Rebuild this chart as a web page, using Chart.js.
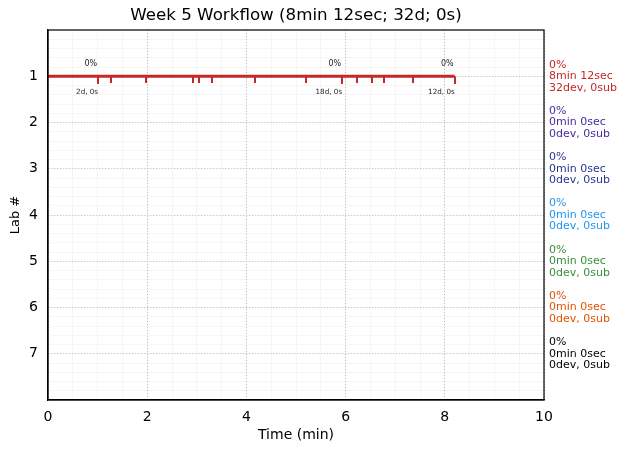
<!DOCTYPE html>
<html>
<head>
<meta charset="utf-8">
<script src="https://cdn.jsdelivr.net/npm/chart.js@4.4.1/dist/chart.umd.min.js"></script>
<style>
  html, body { margin: 0; padding: 0; background: #fff; }
  #wrap { width: 627px; height: 453px; }
</style>
</head>
<body>
<div id="wrap"><canvas id="chart"></canvas></div>
<script>
// lab rows and their right-hand summaries
const labs = [1, 2, 3, 4, 5, 6, 7];
const labColors = ["#c62828", "#4a2a9c", "#283593", "#2196f3", "#388e3c", "#e65100", "#000000"];
const labPercent = ["0%", "0%", "0%", "0%", "0%", "0%", "0%"];
const labTime = ["8min 12sec", "0min 0sec", "0min 0sec", "0min 0sec", "0min 0sec", "0min 0sec", "0min 0sec"];
const labCount = ["32dev, 0sub", "0dev, 0sub", "0dev, 0sub", "0dev, 0sub", "0dev, 0sub", "0dev, 0sub", "0dev, 0sub"];

// lab 1 timeline (minutes)
const lab1Span = [0, 8.2];
const lab1Events = [1.27, 1.98, 2.93, 3.05, 3.31, 4.17, 5.21, 6.23, 6.54, 6.78, 7.36];
const lab1Marks = [1.01, 5.93, 8.2];
const lab1MarkPct = ["0%", "0%", "0%"];
const lab1MarkText = ["2d, 0s", "18d, 0s", "12d, 0s"];

const xTicks = [0, 2, 4, 6, 8, 10];
const chartTitle = "Week 5 Workflow (8min 12sec; 32d; 0s)";

// small canvas used as point style: a tick hanging below the point
function tickImage(w, h, color) {
    const c = document.createElement("canvas");
    c.width = w;
    c.height = h * 2;
    const g = c.getContext("2d");
    g.fillStyle = color;
    g.fillRect(0, h, w, h);
    return c;
}
const smallTick = tickImage(2, 7, labColors[0]);
const bigTick = tickImage(2, 8, labColors[0]);

const frameAndText = {
    id: "frameAndText",
    afterDraw(chart) {
        const ctx = chart.ctx;
        const area = chart.chartArea;
        const xs = chart.scales.x;
        const ys = chart.scales.y;
        ctx.save();
        ctx.strokeStyle = "#000";
        ctx.lineWidth = 1.2;
        ctx.setLineDash([]);
        ctx.strokeRect(area.left, area.top, area.right - area.left, area.bottom - area.top);

        // title centred over the axes
        ctx.fillStyle = "#000";
        ctx.textAlign = "center";
        ctx.textBaseline = "middle";
        ctx.font = "16.7px 'DejaVu Sans'";
        ctx.fillText(chartTitle, (area.left + area.right) / 2, 16);

        // milestone labels on lab 1
        ctx.fillStyle = "#222";
        ctx.textAlign = "right";
        const yl = ys.getPixelForValue(labs[0]);
        lab1Marks.forEach((m, i) => {
            const px = xs.getPixelForValue(m);
            ctx.font = "8px 'DejaVu Sans'";
            ctx.fillText(lab1MarkPct[i], px - 1, yl - 12);
            ctx.font = "7.2px 'DejaVu Sans'";
            ctx.fillText(lab1MarkText[i], px, yl + 16);
        });

        // summaries on the right
        ctx.textAlign = "left";
        ctx.font = "11px 'DejaVu Sans'";
        labs.forEach((lab, i) => {
            const py = ys.getPixelForValue(lab);
            ctx.fillStyle = labColors[i];
            ctx.fillText(labPercent[i], area.right + 5, py - 11.5);
            ctx.fillText(labTime[i], area.right + 5, py);
            ctx.fillText(labCount[i], area.right + 5, py + 11.5);
        });
        ctx.restore();
    }
};

new Chart(document.getElementById("chart"), {
    type: "scatter",
    data: {
        datasets: [
            {
                type: "line",
                data: lab1Span.map(t => ({ x: t, y: labs[0] })),
                borderColor: labColors[0],
                borderWidth: 3,
                pointRadius: 0
            },
            {
                data: lab1Events.map(t => ({ x: t, y: labs[0] })),
                pointStyle: smallTick,
                backgroundColor: labColors[0]
            },
            {
                data: lab1Marks.map(t => ({ x: t, y: labs[0] })),
                pointStyle: bigTick,
                backgroundColor: labColors[0]
            }
        ]
    },
    options: {
        responsive: true,
        maintainAspectRatio: false,
        animation: false,
        layout: { padding: { left: 8, right: 83, top: 30, bottom: 9 } },
        plugins: {
            legend: { display: false },
            tooltip: { enabled: false },
            title: { display: false }
        },
        scales: {
            xMinor: {
                type: "linear",
                position: "top",
                min: 0, max: 10,
                display: true,
                ticks: { display: false, stepSize: 0.5 },
                grid: { color: "#f4f4f4", lineWidth: 0.8, drawTicks: false },
                border: { display: false },
                afterFit(s) { s.height = 0; }
            },
            yMinor: {
                type: "linear",
                position: "right",
                min: 0, max: 8,
                reverse: true,
                display: true,
                ticks: { display: false, stepSize: 0.2 },
                grid: { color: "#f4f4f4", lineWidth: 0.8, drawTicks: false },
                border: { display: false },
                afterFit(s) { s.width = 0; }
            },
            x: {
                type: "linear",
                min: 0, max: 10,
                afterBuildTicks(s) { s.ticks = xTicks.map(v => ({ value: v })); },
                ticks: { color: "#000", font: { family: "DejaVu Sans", size: 14 }, padding: 9 },
                grid: { color: "#b0b0b0", lineWidth: 0.8, drawTicks: false },
                border: { color: "#000", width: 1.2, dash: [1, 2] },
                title: {
                    display: true,
                    text: "Time (min)",
                    color: "#000",
                    font: { family: "DejaVu Sans", size: 14 },
                    padding: { top: 0, bottom: 0 }
                },
                afterFit(s) { s.height = 44; }
            },
            y: {
                type: "linear",
                min: 0, max: 8,
                reverse: true,
                afterBuildTicks(s) { s.ticks = labs.map(v => ({ value: v })); },
                ticks: { color: "#000", font: { family: "DejaVu Sans", size: 14 }, padding: 10 },
                grid: { color: "#b0b0b0", lineWidth: 0.8, drawTicks: false },
                border: { color: "#000", width: 1.2, dash: [1, 2] },
                title: {
                    display: true,
                    text: "Lab #",
                    color: "#000",
                    font: { family: "DejaVu Sans", size: 13 },
                    padding: { top: 0, bottom: 0 }
                },
                afterFit(s) { s.width = 40; }
            }
        }
    },
    plugins: [frameAndText]
});
</script>
</body>
</html>
